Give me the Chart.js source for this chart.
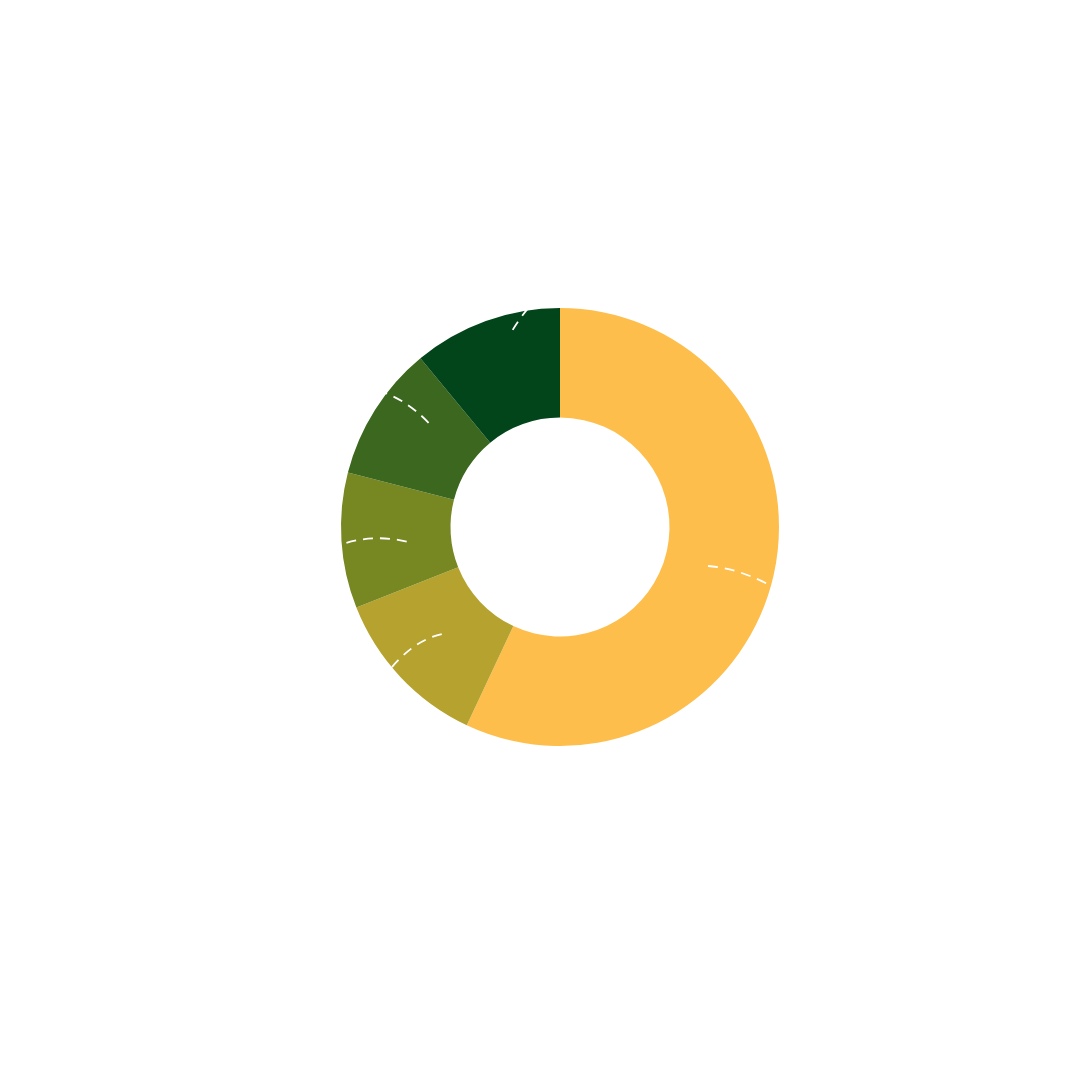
<!DOCTYPE html>
<html>
<head>
<meta charset="utf-8">
<script src="https://cdn.jsdelivr.net/npm/chart.js@4/dist/chart.umd.min.js"></script>
<style>
  html, body { margin: 0; padding: 0; background: #ffffff; }
  #wrap { width: 1080px; height: 1080px; }
</style>
</head>
<body>
<div id="wrap"><canvas id="c" width="1080" height="1080"></canvas></div>
<script>
// Data
const categories = ["Category 1", "Category 2", "Category 3", "Category 4", "Category 5"];
const values = [57, 12, 10, 10, 11];
const colors = ["#FEBE4C", "#B6A32F", "#778721", "#3B671E", "#02451A"];

// Decorative leader lines (quadratic curves), in units of outer radius relative to the centre
const leaderLines = [
  [[0.676, 0.178], [0.85, 0.19], [1.05, 0.32]],
  [[-0.54, 0.489], [-0.68, 0.52], [-0.80, 0.68]],
  [[-0.70, 0.067], [-0.85, 0.03], [-1.0, 0.08]],
  [[-0.60, -0.476], [-0.70, -0.58], [-0.82, -0.62]],
  [[-0.216, -0.90], [-0.18, -0.96], [-0.12, -1.03]]
];

const leaderPlugin = {
  id: 'leaders',
  afterDatasetsDraw(chart) {
    const meta = chart.getDatasetMeta(0);
    if (!meta.data.length) return;
    const arc = meta.data[0];
    const cx = arc.x, cy = arc.y, R = arc.outerRadius;
    const ctx = chart.ctx;
    ctx.save();
    ctx.strokeStyle = '#ffffff';
    ctx.lineWidth = 1.8;
    ctx.setLineDash([10, 7]);
    leaderLines.forEach(pts => {
      ctx.beginPath();
      ctx.moveTo(cx + pts[0][0] * R, cy + pts[0][1] * R);
      ctx.quadraticCurveTo(cx + pts[1][0] * R, cy + pts[1][1] * R, cx + pts[2][0] * R, cy + pts[2][1] * R);
      ctx.stroke();
    });
    ctx.restore();
  }
};

new Chart(document.getElementById('c'), {
  type: 'doughnut',
  data: {
    labels: categories,
    datasets: [{
      data: values,
      backgroundColor: colors,
      borderWidth: 0,
      hoverOffset: 0
    }]
  },
  options: {
    responsive: false,
    animation: false,
    cutout: '50%',
    layout: { padding: { left: 341, right: 301, top: 308, bottom: 334 } },
    plugins: {
      legend: { display: false },
      tooltip: { enabled: false },
      title: { display: false }
    }
  },
  plugins: [leaderPlugin]
});
</script>
</body>
</html>
